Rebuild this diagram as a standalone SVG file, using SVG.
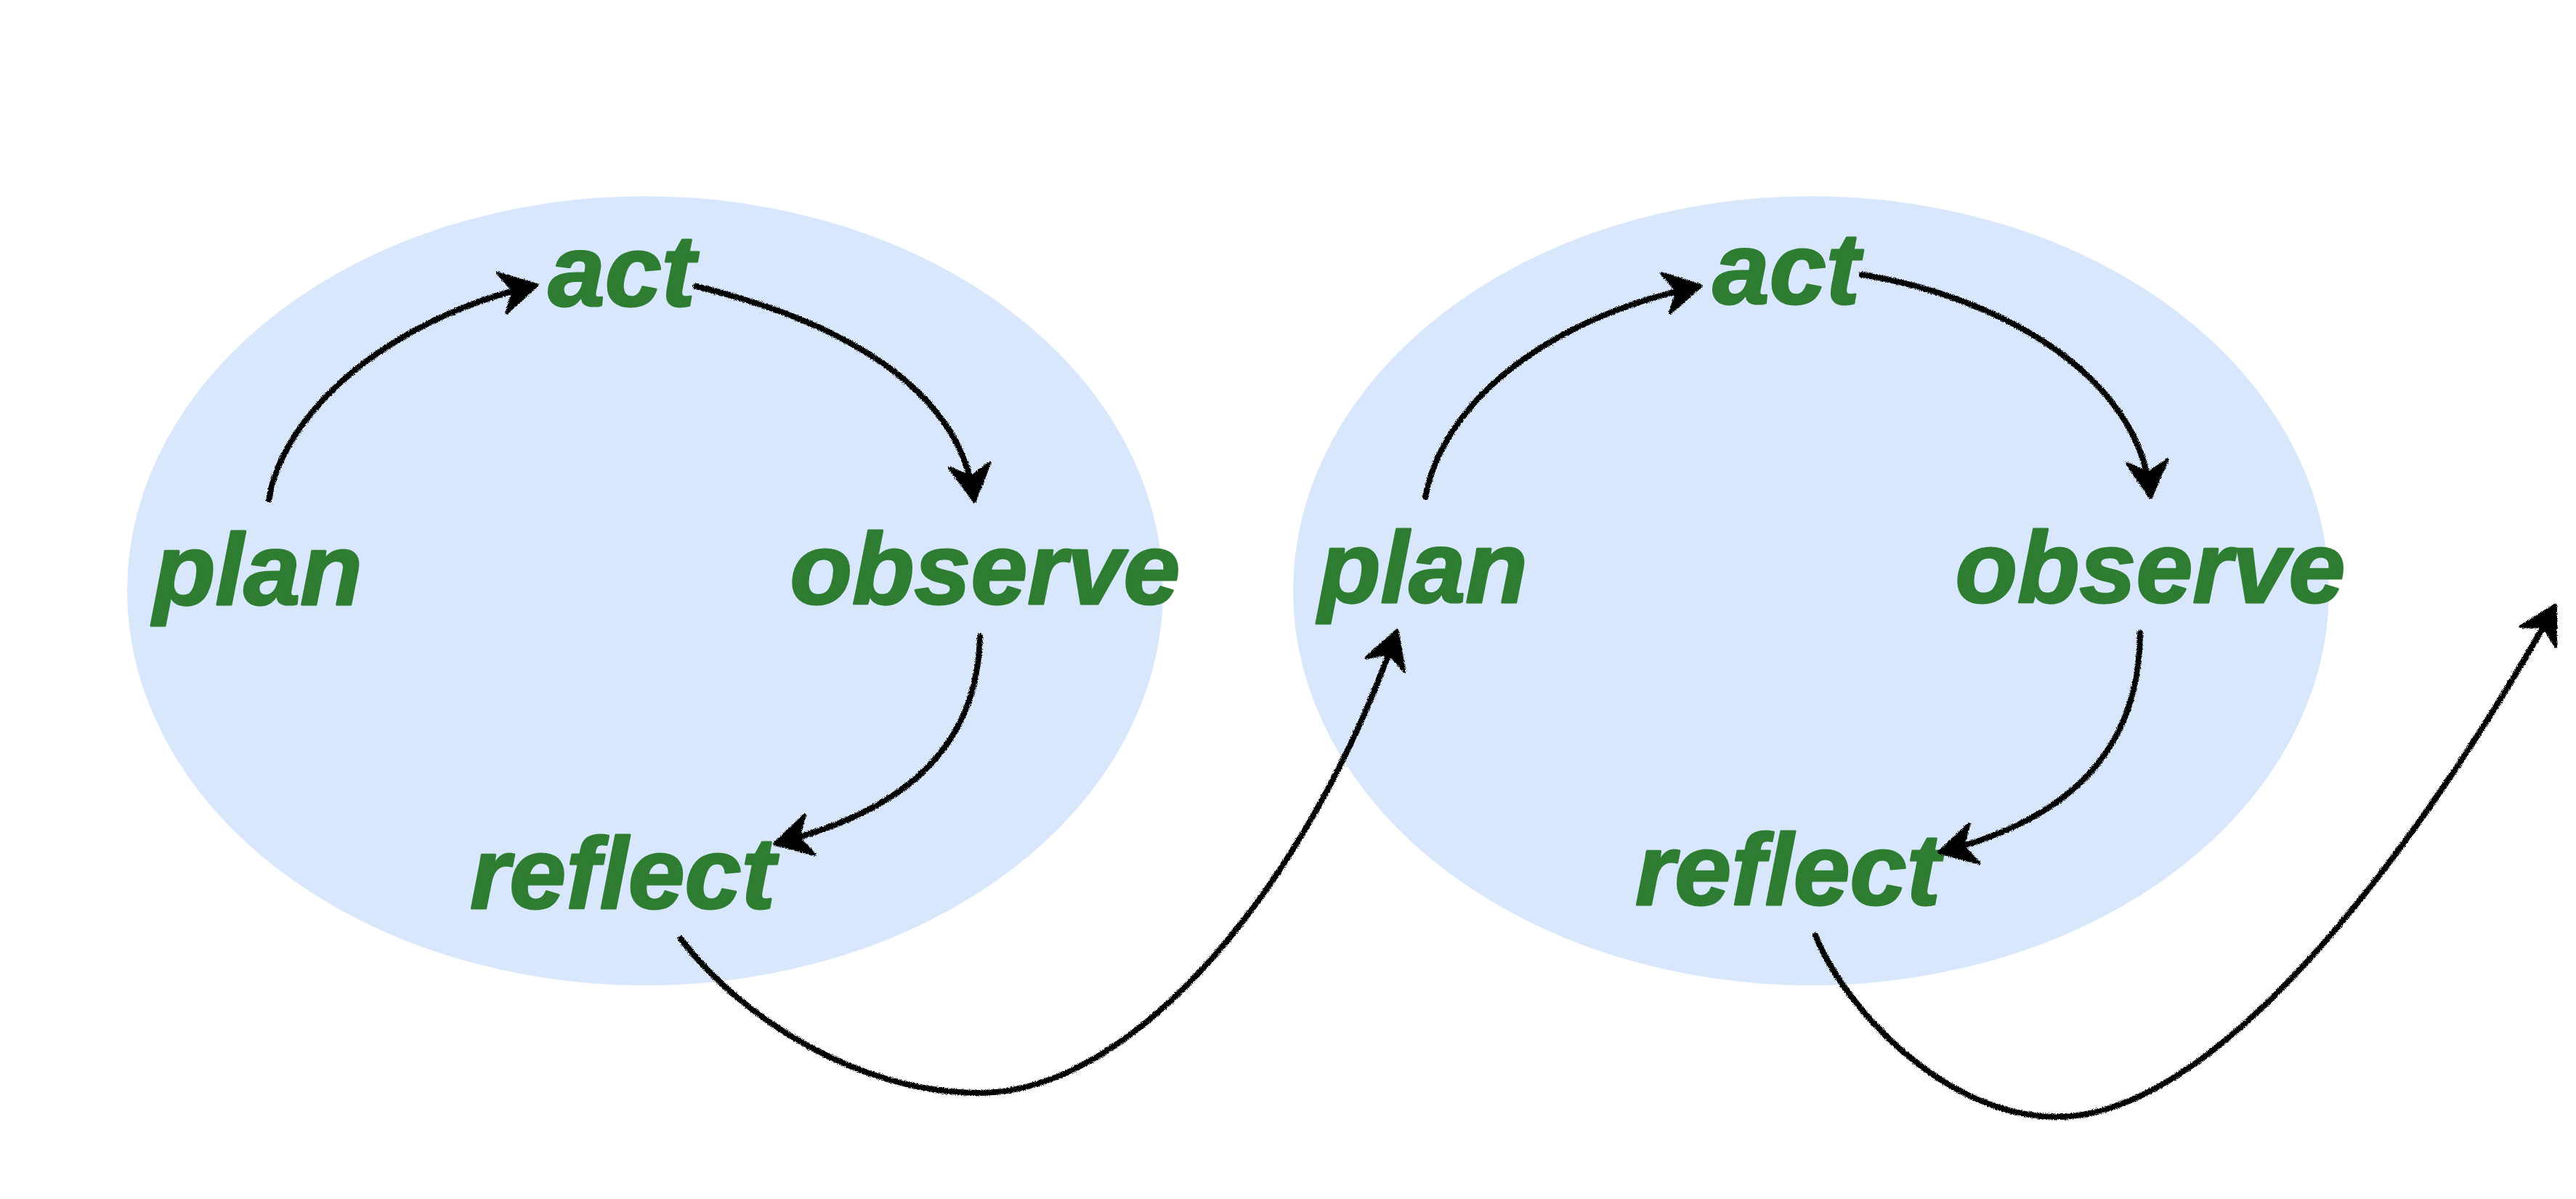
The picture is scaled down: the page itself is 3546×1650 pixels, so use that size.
<svg xmlns="http://www.w3.org/2000/svg" width="3546" height="1650" viewBox="0 0 3546 1650">
  <style>
    .cycle { fill: #d8e7fb; stroke: none; }
    .label { font-family: "Liberation Sans", Arial, Helvetica, sans-serif; font-weight: bold; font-style: italic; font-size: 140px; fill: #2e7d32; stroke: #2e7d32; stroke-width: 3; stroke-linejoin: round; text-anchor: middle; }
    .conn { fill: none; stroke: #000; stroke-width: 8; stroke-linecap: round; marker-end: url(#arrow); }
  </style>
  <defs>
    <marker id="arrow" markerUnits="userSpaceOnUse" markerWidth="80" markerHeight="80" viewBox="-60 -40 80 80" refX="0" refY="0" orient="auto">
      <path d="M4,0 L-46,-28 L-30,0 L-46,28 Z" fill="#000" stroke="#000" stroke-width="4" stroke-linejoin="round"/>
    </marker>
    <filter id="sketch" filterUnits="userSpaceOnUse" x="0" y="0" width="3546" height="1650">
      <feTurbulence type="fractalNoise" baseFrequency="0.9" numOctaves="2" seed="3" result="noise"/>
      <feDisplacementMap in="SourceGraphic" in2="noise" scale="5" xChannelSelector="R" yChannelSelector="G"/>
    </filter>
  </defs>
  <rect width="3546" height="1650" fill="#ffffff"/>

  <g id="cycle-1">
    <ellipse class="cycle" cx="888" cy="813" rx="713" ry="543"/>
  </g>
  <g id="cycle-2">
    <ellipse class="cycle" cx="2493" cy="813" rx="713" ry="543"/>
  </g>

  <g id="plan-1"><text class="label" x="355" y="832">plan</text></g>
  <g id="act-1"><text class="label" x="856" y="421">act</text></g>
  <g id="observe-1"><text class="label" x="1356" y="831">observe</text></g>
  <g id="reflect-1"><text class="label" x="857" y="1250">reflect</text></g>

  <g id="plan-2"><text class="label" x="1959" y="829">plan</text></g>
  <g id="act-2"><text class="label" x="2459" y="418">act</text></g>
  <g id="observe-2"><text class="label" x="2960" y="829">observe</text></g>
  <g id="reflect-2"><text class="label" x="2461" y="1245">reflect</text></g>

  <g id="connectors" filter="url(#sketch)">
    <path class="conn" d="M370,687 C390,570 530,440 736,393"/>
    <path class="conn" d="M958,394 C1150,440 1320,530 1341,686"/>
    <path class="conn" d="M1349,876 C1345,1040 1230,1120 1070,1160"/>
    <path class="conn" d="M937,1292 C1020,1400 1180,1504 1349,1504 C1560,1504 1800,1220 1922,871"/>
    <path class="conn" d="M1962,684 C1985,560 2120,440 2338,394"/>
    <path class="conn" d="M2563,378 C2760,410 2945,520 2960,681"/>
    <path class="conn" d="M2946,871 C2945,1040 2840,1130 2673,1172"/>
    <path class="conn" d="M2499,1287 C2540,1390 2680,1537 2831,1537 C3080,1537 3380,1080 3516,836"/>
  </g>
</svg>
